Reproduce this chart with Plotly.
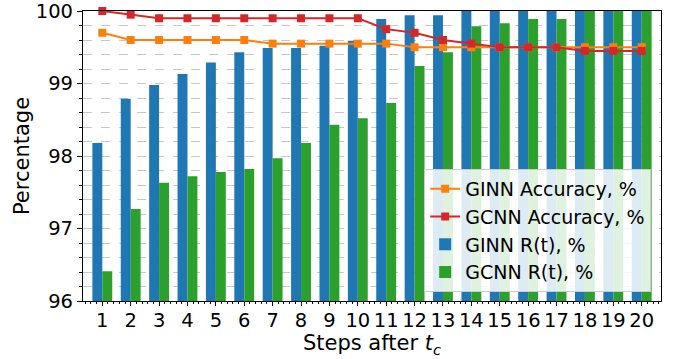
import plotly.graph_objects as go

# Steps after t_c
steps = list(range(1, 21))

# Robustness R(t), %
ginn_r = [98.18, 98.79, 98.98, 99.13, 99.29, 99.43, 99.49, 99.49, 99.52, 99.59,
          99.89, 99.94, 99.94, 100.0, 100.0, 100.0, 100.0, 100.0, 100.0, 100.0]
gcnn_r = [96.41, 97.27, 97.63, 97.72, 97.78, 97.82, 97.97, 98.18, 98.43, 98.52,
          98.73, 99.24, 99.43, 99.79, 99.83, 99.89, 99.89, 100.0, 100.0, 100.0]

# Accuracy, %
ginn_acc = [99.7, 99.6, 99.6, 99.6, 99.6, 99.6, 99.55, 99.55, 99.55, 99.55,
            99.55, 99.5, 99.5, 99.5, 99.5, 99.5, 99.5, 99.5, 99.5, 99.5]
gcnn_acc = [100.0, 99.95, 99.9, 99.9, 99.9, 99.9, 99.9, 99.9, 99.9, 99.9,
            99.75, 99.7, 99.6, 99.55, 99.5, 99.5, 99.5, 99.45, 99.45, 99.45]

BLUE = "#1f77b4"
GREEN = "#2ca02c"
ORANGE = "#ff7f0e"
RED = "#d62728"
FONT = "DejaVu Sans"

fig = go.Figure()
fig.add_trace(go.Bar(x=steps, y=ginn_r, name="GINN R(t), %", marker_color=BLUE,
                     marker_line_width=0, legendrank=3))
fig.add_trace(go.Bar(x=steps, y=gcnn_r, name="GCNN R(t), %", marker_color=GREEN,
                     marker_line_width=0, legendrank=4))
fig.add_trace(go.Scatter(x=steps, y=ginn_acc, name="GINN Accuracy, %", mode="lines+markers",
                         line=dict(color=ORANGE, width=2),
                         marker=dict(symbol="square", size=8, color=ORANGE),
                         legendrank=1, cliponaxis=False))
fig.add_trace(go.Scatter(x=steps, y=gcnn_acc, name="GCNN Accuracy, %", mode="lines+markers",
                         line=dict(color=RED, width=2),
                         marker=dict(symbol="square", size=8, color=RED),
                         legendrank=2, cliponaxis=False))

fig.update_layout(
    width=678, height=359,
    margin=dict(l=83, r=17, t=11, b=58, autoexpand=False),
    paper_bgcolor="white", plot_bgcolor="white",
    font=dict(family=FONT, size=19, color="black"),
    barmode="group", bargap=0.3, bargroupgap=0,
    showlegend=True,
    legend=dict(x=0.983, y=0.031, xanchor="right", yanchor="bottom",
                bgcolor="rgba(255,255,255,0.85)", bordercolor="#cccccc", borderwidth=1,
                font=dict(family=FONT, size=19), tracegroupgap=4),
    xaxis=dict(
        range=[0.32, 20.68], tickmode="array", tickvals=steps,
        ticktext=[str(s) for s in steps],
        tickfont=dict(family=FONT, size=19.5), ticklabelstandoff=-3,
        ticks="outside", ticklen=4, tickwidth=1, tickcolor="black",
        minor=dict(ticks="outside", ticklen=2, dtick=0.2, tick0=0, tickcolor="black"),
        showline=True, linecolor="black", linewidth=1.2, mirror=True,
        showgrid=False, zeroline=False, automargin=False,
        title=dict(text="Steps after <i>t</i><sub><i>c</i></sub>", standoff=0,
                   font=dict(family=FONT, size=21)),
    ),
    yaxis=dict(
        range=[96, 100], tickmode="array", tickvals=[96, 97, 98, 99, 100],
        tickfont=dict(family=FONT, size=19.5), ticklabeloverflow="allow",
        ticks="outside", ticklen=5, tickwidth=1, tickcolor="black",
        minor=dict(ticks="outside", ticklen=3, dtick=0.2, tick0=96, tickcolor="black",
                   showgrid=True, gridcolor="#c8c8c8", griddash="dash", gridwidth=1),
        showgrid=True, gridcolor="#c8c8c8", griddash="dash", gridwidth=1,
        showline=True, linecolor="black", linewidth=1.2, mirror=True,
        zeroline=False, automargin=False,
        title=dict(text="Percentage", standoff=0, font=dict(family=FONT, size=21)),
    ),
)

fig.write_html("out.html")
